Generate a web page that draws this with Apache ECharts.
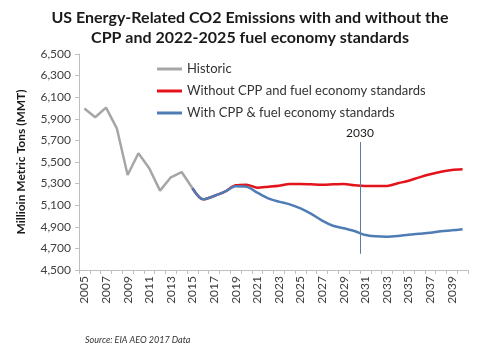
<!DOCTYPE html>
<html>
<head>
<meta charset="utf-8">
<script src="https://cdn.jsdelivr.net/npm/echarts@6/dist/echarts.min.js"></script>
<style>html,body{margin:0;padding:0;background:#fff}#c{width:500px;height:357px}</style>
</head>
<body>
<div id="c"></div>
<script>
var years = [];
for (var y = 2005; y <= 2040; y++) years.push(String(y));

var historic = [5995, 5914, 6003, 5812, 5380, 5581, 5442, 5235, 5358, 5407, 5257,
  null, null, null, null, null, null, null, null, null, null, null, null, null, null, null,
  null, null, null, null, null, null, null, null, null, null];

var withoutCPP = [null, null, null, null, null, null, null, null, null, null,
  5257, 5154, 5185, 5225, 5284, 5290, 5262, 5271, 5281, 5296, 5296, 5293, 5290, 5293, 5296,
  5284, 5278, 5278, 5278, 5303, 5327, 5358, 5386, 5410, 5426, 5432];

var withCPP = [null, null, null, null, null, null, null, null, null, null,
  5257, 5154, 5185, 5225, 5275, 5271, 5216, 5164, 5133, 5108, 5071, 5019, 4957, 4910, 4886,
  4861, 4824, 4812, 4809, 4815, 4827, 4836, 4845, 4858, 4867, 4877];

var marker2030 = { x: 2030.5, top: 5685, bottom: 4650, label: '2030' };

var FONT = 'Lato, "Open Sans", sans-serif';
var chart = echarts.init(document.getElementById('c'), null, { renderer: 'canvas' });
chart.setOption({
  animation: false,
  backgroundColor: '#ffffff',
  title: {
    text: 'US Energy-Related CO2 Emissions with and without the\nCPP and 2022-2025 fuel economy standards',
    left: 'center', top: 3,
    textStyle: { fontFamily: FONT, fontSize: 16, fontWeight: 'bold', color: '#1a1a1a', lineHeight: 20 }
  },
  legend: {
    orient: 'vertical', left: 157, top: 61, padding: 0,
    icon: 'rect', itemWidth: 25, itemHeight: 3, itemGap: 6,
    textStyle: { fontFamily: FONT, fontSize: 13, color: '#333', lineHeight: 16 },
    data: ['Historic', 'Without CPP and fuel economy standards', 'With CPP & fuel economy standards']
  },
  grid: { left: 79, right: 32, top: 54, bottom: 87 },
  xAxis: [{
    type: 'category', data: years, boundaryGap: true,
    axisLine: { lineStyle: { color: '#bfbfbf' } },
    axisTick: { show: true, interval: 0, length: 4, lineStyle: { color: '#bfbfbf' } },
    axisLabel: { interval: 1, rotate: 90, fontFamily: FONT, fontSize: 12, color: '#404040', margin: 6 },
    splitLine: { show: false }
  }, {
    type: 'value', min: 2004.5, max: 2040.5, show: false, splitLine: { show: false }
  }],
  yAxis: {
    type: 'value', min: 4500, max: 6500, interval: 200,
    name: 'Millioin Metric Tons (MMT)', nameLocation: 'middle', nameGap: 52, nameRotate: 90,
    nameTextStyle: { fontFamily: FONT, fontSize: 12, fontWeight: 'bold', color: '#1a1a1a' },
    axisLine: { show: true, lineStyle: { color: '#bfbfbf' } },
    axisTick: { show: true, length: 4, lineStyle: { color: '#bfbfbf' } },
    axisLabel: {
      fontFamily: FONT, fontSize: 12, color: '#404040', margin: 8,
      formatter: function (v) { return String(v).replace(/\B(?=(\d{3})+(?!\d))/g, ','); }
    },
    splitLine: { show: false }
  },
  series: [{
    name: 'Historic', type: 'line', data: historic, symbol: 'none',
    lineStyle: { color: '#a6a6a6', width: 2.5 }, itemStyle: { color: '#a6a6a6' }
  }, {
    name: 'Without CPP and fuel economy standards', type: 'line', data: withoutCPP, symbol: 'none', smooth: 0.3,
    lineStyle: { color: '#e3131b', width: 2.5 }, itemStyle: { color: '#e3131b' }
  }, {
    name: 'With CPP & fuel economy standards', type: 'line', data: withCPP, symbol: 'none', smooth: 0.3,
    lineStyle: { color: '#4f7cb5', width: 2.5 }, itemStyle: { color: '#4f7cb5' }
  }, {
    name: 'marker', type: 'line', xAxisIndex: 1, data: [], symbol: 'none',
    markLine: {
      silent: true, symbol: 'none',
      lineStyle: { color: '#5b7ca6', width: 1, type: 'solid' },
      label: { show: true, position: 'start', formatter: marker2030.label, fontFamily: FONT, fontSize: 12, color: '#1a1a1a', distance: 3 },
      data: [[{ coord: [marker2030.x, marker2030.top] }, { coord: [marker2030.x, marker2030.bottom] }]]
    }
  }],
  graphic: [{
    type: 'text', left: 85, top: 336,
    style: { text: 'Source: EIA AEO 2017 Data', fontFamily: FONT, fontSize: 9, fontStyle: 'italic', fill: '#333' }
  }]
});
</script>
</body>
</html>
